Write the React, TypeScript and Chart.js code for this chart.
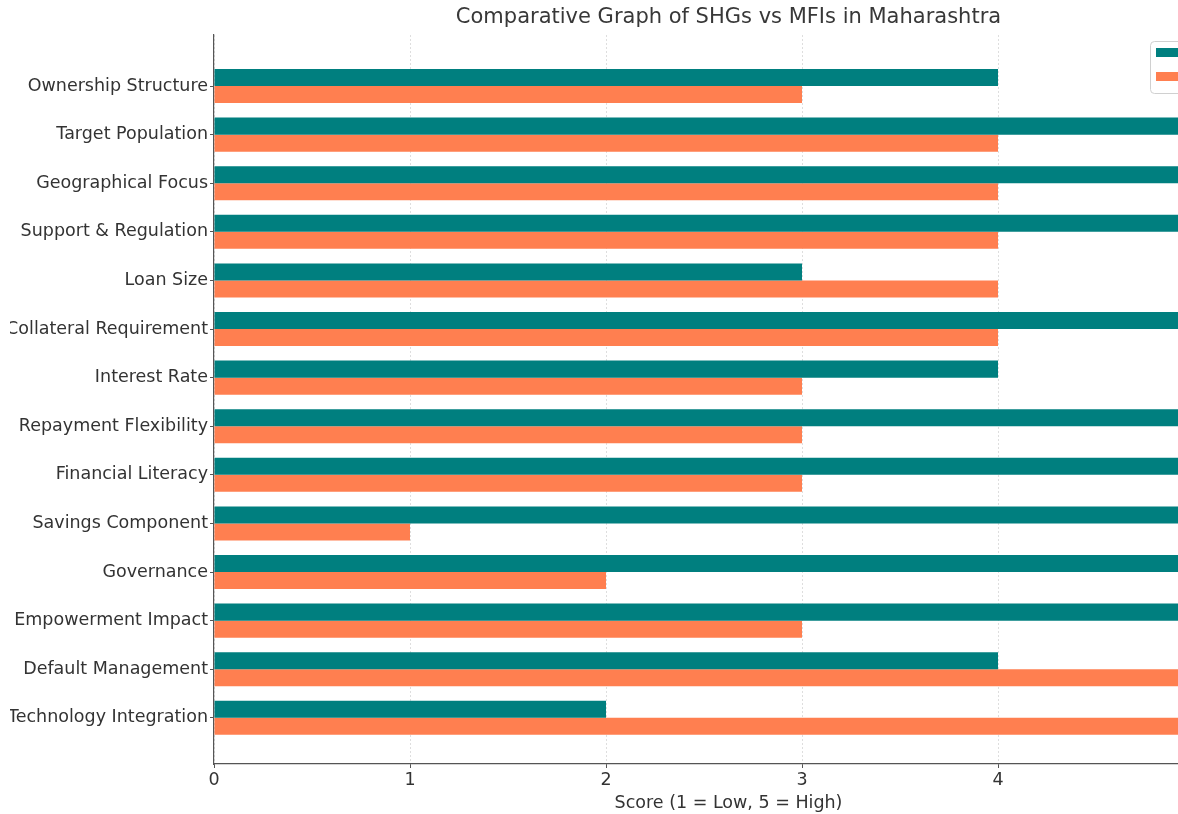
import React, { useEffect, useRef } from "react";
import { Chart, registerables } from "chart.js";

Chart.register(...registerables);

const categories = [
  "Ownership Structure",
  "Target Population",
  "Geographical Focus",
  "Support & Regulation",
  "Loan Size",
  "Collateral Requirement",
  "Interest Rate",
  "Repayment Flexibility",
  "Financial Literacy",
  "Savings Component",
  "Governance",
  "Empowerment Impact",
  "Default Management",
  "Technology Integration",
];
const shgScores = [4, 5, 5, 5, 3, 5, 4, 5, 5, 5, 5, 5, 4, 2];
const mfiScores = [3, 4, 4, 4, 4, 4, 3, 3, 3, 1, 2, 3, 5, 5];
const seriesNames = ["SHGs", "MFIs"];
const xTicks = [0, 1, 2, 3, 4, 5];
const titleText = "Comparative Graph of SHGs vs MFIs in Maharashtra";
const xAxisTitle = "Score (1 = Low, 5 = High)";

const TEAL = "#007f7f";
const CORAL = "#ff7f50";
const FONT = "'DejaVu Sans', sans-serif";

const CANVAS_W = 1340;
const CANVAS_H = 814;
const OFFSET_X = -40;

export default function App() {
  const ref = useRef<HTMLCanvasElement | null>(null);

  useEffect(() => {
    if (!ref.current) return;
    const titlePlugin = {
      id: "customTitle",
      afterDraw(chart: any) {
        const { ctx, chartArea } = chart;
        ctx.save();
        ctx.font = `21px ${FONT}`;
        ctx.fillStyle = "#383838";
        ctx.textAlign = "center";
        ctx.textBaseline = "middle";
        ctx.fillText(titleText, (chartArea.left + chartArea.right) / 2, 18);
        ctx.restore();
      },
    };
    const legendPlugin = {
      id: "customLegend",
      afterDraw(chart: any) {
        const { ctx } = chart;
        const x = 1190;
        const y = 41;
        ctx.save();
        ctx.fillStyle = "rgba(255,255,255,0.8)";
        ctx.strokeStyle = "#d0d0d0";
        ctx.lineWidth = 1;
        ctx.beginPath();
        (ctx as any).roundRect(x + 0.5, y + 0.5, 130, 52, 4);
        ctx.fill();
        ctx.stroke();
        const colors = [TEAL, CORAL];
        ctx.font = `17.5px ${FONT}`;
        ctx.textBaseline = "middle";
        ctx.textAlign = "left";
        seriesNames.forEach((name, i) => {
          const py = y + 7 + i * 24;
          ctx.fillStyle = colors[i];
          ctx.fillRect(x + 6, py, 35, 9);
          ctx.fillStyle = "#333";
          ctx.fillText(name, x + 55, py + 5);
        });
        ctx.restore();
      },
    };

    const chart = new Chart(ref.current, {
      type: "bar",
      data: {
        datasets: [
          {
            label: seriesNames[0],
            data: shgScores.map((v, i) => ({ x: v, y: i })),
            backgroundColor: TEAL,
            borderWidth: 0,
            categoryPercentage: 0.7,
            barPercentage: 1.0,
          },
          {
            label: seriesNames[1],
            data: mfiScores.map((v, i) => ({ x: v, y: i })),
            backgroundColor: CORAL,
            borderWidth: 0,
            categoryPercentage: 0.7,
            barPercentage: 1.0,
          },
        ],
      },
      options: {
        indexAxis: "y",
        responsive: false,
        animation: false,
        layout: { padding: { top: 35, right: 57, left: 0, bottom: 0 } },
        plugins: {
          legend: { display: false },
          title: { display: false },
          tooltip: { enabled: false },
        },
        scales: {
          y: {
            type: "linear",
            reverse: true,
            offset: false,
            bounds: "data",
            min: -1.05,
            max: 13.95,
            afterBuildTicks: (axis: any) => {
              axis.ticks = categories.map((_, i) => ({ value: i }));
            },
            afterFit: (axis: any) => {
              axis.width = 254;
            },
            ticks: {
              callback: (v: any) => categories[v] ?? "",
              font: { family: FONT, size: 17.5 },
              color: "#333",
              padding: 2,
            },
            grid: {
              display: true,
              offset: false,
              drawOnChartArea: false,
              drawTicks: true,
              tickLength: 4,
              tickColor: "#555",
            },
            border: { display: true, color: "#555", width: 1.2 },
          },
          x: {
            type: "linear",
            min: 0,
            max: 5.25,
            afterBuildTicks: (axis: any) => {
              axis.ticks = xTicks.map((v) => ({ value: v }));
            },
            afterFit: (axis: any) => {
              axis.height = 50;
            },
            ticks: {
              font: { family: FONT, size: 17.5 },
              color: "#333",
              padding: 2,
              maxRotation: 0,
            },
            grid: {
              display: true,
              drawOnChartArea: true,
              color: "rgba(0,0,0,0.13)",
              drawTicks: true,
              tickLength: 4,
              tickColor: "#555",
            },
            border: { display: true, color: "#555", width: 1.2, dash: [2, 2] },
            title: {
              display: true,
              text: xAxisTitle,
              font: { family: FONT, size: 17.5 },
              color: "#333",
              padding: { top: 0, bottom: 0 },
            },
          },
        },
      },
      plugins: [titlePlugin, legendPlugin],
    } as any);
    return () => chart.destroy();
  }, []);

  return (
    <div
      style={{
        position: "fixed",
        left: 0,
        top: 0,
        width: 1178,
        height: 814,
        overflow: "hidden",
        background: "#fff",
      }}
    >
      <canvas
        ref={ref}
        width={CANVAS_W}
        height={CANVAS_H}
        style={{
          position: "absolute",
          left: OFFSET_X,
          top: 0,
          width: CANVAS_W,
          height: CANVAS_H,
          clipPath: "inset(0 0 0 50px)",
        }}
      />
    </div>
  );
}
